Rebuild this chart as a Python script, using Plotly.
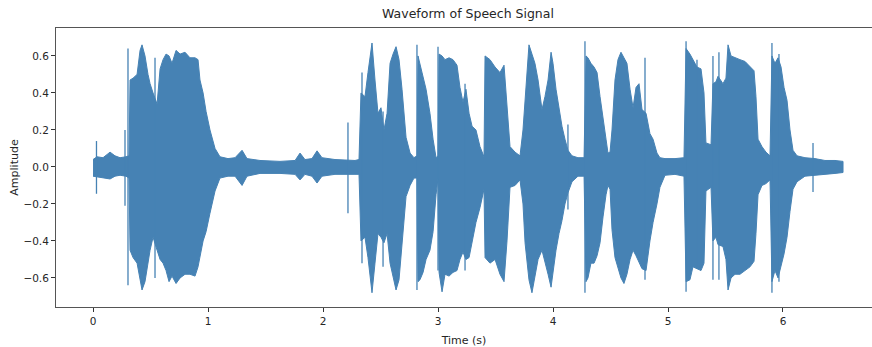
import plotly.graph_objects as go

# ---- data (time in s, amplitude envelope) ----
env_time = [0.000, 0.035, 0.087, 0.148, 0.191, 0.235, 0.287, 0.313, 0.322, 0.348, 0.383, 0.409, 0.426, 0.452,
            0.478, 0.496, 0.522, 0.557, 0.583, 0.609, 0.635, 0.661, 0.687, 0.722, 0.757, 0.800, 0.843, 0.887,
            0.913, 0.930, 0.957, 0.983, 1.017, 1.061, 1.104, 1.174, 1.235, 1.296, 1.339, 1.452, 1.626, 1.757,
            1.800, 1.843, 1.904, 1.948, 1.991, 2.104, 2.278, 2.313, 2.330, 2.365, 2.391, 2.426, 2.452, 2.478,
            2.504, 2.530, 2.557, 2.583, 2.609, 2.635, 2.661, 2.687, 2.722, 2.757, 2.791, 2.817, 2.826, 2.843,
            2.870, 2.896, 2.930, 2.957, 2.983, 3.000, 3.009, 3.035, 3.061, 3.096, 3.130, 3.165, 3.191, 3.217,
            3.243, 3.270, 3.296, 3.330, 3.365, 3.400, 3.409, 3.452, 3.496, 3.539, 3.574, 3.600, 3.626, 3.670,
            3.713, 3.739, 3.757, 3.774, 3.791, 3.817, 3.843, 3.870, 3.904, 3.930, 3.957, 3.983, 4.000, 4.026,
            4.052, 4.078, 4.104, 4.130, 4.165, 4.217, 4.270, 4.287, 4.304, 4.330, 4.357, 4.383, 4.409, 4.435,
            4.461, 4.478, 4.496, 4.513, 4.539, 4.565, 4.591, 4.617, 4.643, 4.670, 4.696, 4.722, 4.748, 4.774,
            4.809, 4.843, 4.870, 4.904, 4.930, 4.974, 5.061, 5.139, 5.157, 5.191, 5.217, 5.252, 5.287, 5.313,
            5.330, 5.374, 5.391, 5.417, 5.435, 5.478, 5.504, 5.522, 5.548, 5.583, 5.626, 5.670, 5.713, 5.748,
            5.765, 5.783, 5.817, 5.852, 5.887, 5.904, 5.930, 5.957, 5.983, 6.009, 6.035, 6.061, 6.087, 6.122,
            6.191, 6.278, 6.365, 6.452, 6.522]
env_upper = [0.04, 0.055, 0.05, 0.08, 0.06, 0.05, 0.055, 0.06, 0.47, 0.48, 0.50, 0.63, 0.66, 0.60,
             0.50, 0.45, 0.40, 0.34, 0.53, 0.58, 0.61, 0.60, 0.56, 0.63, 0.61, 0.62, 0.59, 0.59,
             0.58, 0.47, 0.40, 0.30, 0.20, 0.10, 0.055, 0.045, 0.05, 0.09, 0.045, 0.035, 0.03, 0.035,
             0.075, 0.04, 0.045, 0.087, 0.05, 0.04, 0.035, 0.04, 0.40, 0.38, 0.51, 0.67, 0.47, 0.29,
             0.32, 0.20, 0.29, 0.56, 0.61, 0.65, 0.58, 0.42, 0.16, 0.075, 0.05, 0.06, 0.60, 0.56,
             0.49, 0.42, 0.29, 0.15, 0.05, 0.06, 0.61, 0.60, 0.58, 0.59, 0.58, 0.55, 0.43, 0.35,
             0.42, 0.29, 0.22, 0.20, 0.11, 0.055, 0.60, 0.58, 0.54, 0.51, 0.55, 0.30, 0.11, 0.08,
             0.06, 0.20, 0.38, 0.51, 0.66, 0.61, 0.56, 0.47, 0.31, 0.38, 0.47, 0.62, 0.56, 0.42,
             0.31, 0.22, 0.15, 0.09, 0.06, 0.05, 0.05, 0.60, 0.59, 0.56, 0.54, 0.51, 0.38, 0.25,
             0.15, 0.075, 0.08, 0.20, 0.47, 0.58, 0.62, 0.59, 0.56, 0.42, 0.32, 0.43, 0.45, 0.31,
             0.29, 0.18, 0.15, 0.075, 0.05, 0.045, 0.045, 0.05, 0.64, 0.61, 0.58, 0.54, 0.53, 0.40,
             0.13, 0.12, 0.45, 0.46, 0.49, 0.45, 0.48, 0.66, 0.60, 0.59, 0.58, 0.57, 0.54, 0.52,
             0.38, 0.15, 0.11, 0.08, 0.06, 0.60, 0.56, 0.59, 0.54, 0.43, 0.36, 0.20, 0.09, 0.06,
             0.05, 0.045, 0.035, 0.035, 0.03]
env_lower = [-0.05, -0.055, -0.06, -0.065, -0.05, -0.045, -0.05, -0.06, -0.45, -0.49, -0.52, -0.61, -0.665, -0.62,
             -0.52, -0.45, -0.38, -0.45, -0.50, -0.52, -0.56, -0.62, -0.59, -0.63, -0.60, -0.58, -0.58, -0.59,
             -0.54, -0.49, -0.40, -0.35, -0.25, -0.13, -0.06, -0.05, -0.05, -0.10, -0.05, -0.035, -0.035, -0.04,
             -0.07, -0.04, -0.05, -0.087, -0.05, -0.04, -0.04, -0.04, -0.40, -0.38, -0.49, -0.68, -0.52, -0.36,
             -0.38, -0.41, -0.36, -0.52, -0.60, -0.665, -0.61, -0.43, -0.16, -0.10, -0.06, -0.06, -0.62, -0.61,
             -0.57, -0.50, -0.45, -0.35, -0.15, -0.06, -0.57, -0.675, -0.58, -0.59, -0.57, -0.56, -0.50, -0.46,
             -0.50, -0.49, -0.40, -0.30, -0.22, -0.12, -0.49, -0.52, -0.50, -0.58, -0.62, -0.40, -0.11, -0.10,
             -0.07, -0.20, -0.41, -0.52, -0.61, -0.68, -0.59, -0.50, -0.45, -0.52, -0.58, -0.65, -0.59, -0.45,
             -0.36, -0.29, -0.20, -0.14, -0.08, -0.05, -0.05, -0.62, -0.60, -0.52, -0.52, -0.48, -0.41, -0.27,
             -0.15, -0.10, -0.12, -0.34, -0.49, -0.55, -0.60, -0.63, -0.58, -0.50, -0.45, -0.48, -0.51, -0.55,
             -0.56, -0.40, -0.30, -0.20, -0.11, -0.045, -0.04, -0.05, -0.62, -0.61, -0.54, -0.55, -0.56, -0.52,
             -0.13, -0.11, -0.40, -0.38, -0.42, -0.43, -0.50, -0.665, -0.60, -0.58, -0.58, -0.56, -0.54, -0.51,
             -0.36, -0.15, -0.10, -0.09, -0.07, -0.62, -0.56, -0.60, -0.53, -0.47, -0.38, -0.24, -0.12, -0.08,
             -0.05, -0.045, -0.04, -0.035, -0.03]

# isolated transient spikes (time, peak, trough)
spike_time = [0.030, 0.278, 0.304, 0.539, 2.217, 2.339, 2.522, 2.817, 3.000, 3.235,
              4.130, 4.278, 4.800, 5.157, 5.252, 5.391, 5.443, 5.904, 5.965, 6.261]
spike_hi = [0.14, 0.20, 0.64, 0.59, 0.24, 0.51, 0.30, 0.66, 0.65, 0.45,
            0.23, 0.68, 0.59, 0.68, 0.58, 0.60, 0.62, 0.67, 0.61, 0.13]
spike_lo = [-0.145, -0.21, -0.64, -0.60, -0.25, -0.52, -0.54, -0.665, -0.56, -0.56,
            -0.23, -0.68, -0.61, -0.675, -0.55, -0.61, -0.61, -0.68, -0.62, -0.135]

title_text = "Waveform of Speech Signal"
x_label = "Time (s)"
y_label = "Amplitude"
x_ticks = [0, 1, 2, 3, 4, 5, 6]
y_ticks = [-0.6, -0.4, -0.2, 0.0, 0.2, 0.4, 0.6]

COLOR = "#4682b4"
TXT = "#262626"

fig = go.Figure()

# envelope polygon (upper edge forward, lower edge back)
poly_x = env_time + env_time[::-1]
poly_y = env_upper + env_lower[::-1]
fig.add_trace(go.Scatter(x=poly_x, y=poly_y, mode="lines", fill="toself",
                         fillcolor=COLOR, line=dict(color=COLOR, width=1),
                         hoverinfo="skip", showlegend=False))

# spikes as vertical strokes
sx, sy = [], []
for t, h, l in zip(spike_time, spike_hi, spike_lo):
    sx += [t, t, None]
    sy += [l, h, None]
fig.add_trace(go.Scatter(x=sx, y=sy, mode="lines", line=dict(color=COLOR, width=1.3),
                         hoverinfo="skip", showlegend=False))

fig.update_layout(
    width=872, height=347,
    margin=dict(l=56, r=0, t=28, b=40),
    paper_bgcolor="white", plot_bgcolor="white",
    font=dict(family="DejaVu Sans", size=10.5, color=TXT),
    title=dict(text=title_text, x=468 / 872, xref="container", xanchor="center",
               y=1 - 14 / 347, yref="container", yanchor="middle",
               font=dict(size=12.5, color=TXT)),
)
fig.update_xaxes(range=[-0.322, 6.774], tickvals=x_ticks, ticks="outside", ticklen=4,
                 tickcolor="#333", showline=True, linecolor="#555", linewidth=1, mirror=True,
                 showgrid=False, zeroline=False,
                 title=dict(text=x_label, font=dict(size=11, color=TXT), standoff=11))
fig.update_yaxes(range=[-0.757, 0.751], tickvals=y_ticks, tickformat=".1f", ticks="outside",
                 ticklen=4, tickcolor="#333", showline=True, linecolor="#555", linewidth=1,
                 mirror=False, showgrid=False, zeroline=False,
                 title=dict(text=y_label, font=dict(size=11, color=TXT), standoff=2))

fig.write_html("out.html")
